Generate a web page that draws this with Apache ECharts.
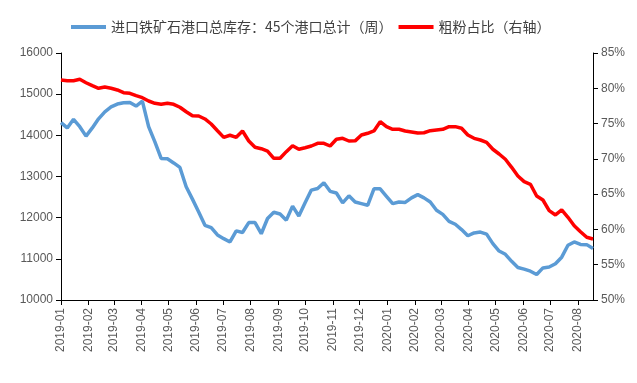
<!DOCTYPE html>
<html><head><meta charset="utf-8">
<script src="https://cdn.jsdelivr.net/npm/echarts@6/dist/echarts.min.js"></script>
<style>html,body{margin:0;padding:0;background:#fff}#c{width:637px;height:383px}</style>
</head><body><div id="c"></div>
<script>
// weekly data, first week 2019-01-04, last week 2020-08-21
const startDate = '2019-01-04';
const weekCount = 86;
const inventory = [
  14310, 14180, 14390, 14210, 13980, 14180, 14400, 14570, 14690, 14760,
  14790, 14800, 14710, 14830, 14210, 13840, 13440, 13430, 13330, 13220,
  12750, 12450, 12140, 11815, 11760, 11580, 11490, 11410, 11680, 11640,
  11880, 11880, 11610, 11980, 12130, 12090, 11940, 12280, 12040, 12360,
  12670, 12710, 12850, 12640, 12600, 12360, 12530, 12380, 12340, 12300,
  12700, 12700, 12520, 12340, 12380, 12370, 12480, 12560, 12480, 12380,
  12180, 12080, 11910, 11840, 11710, 11560, 11630, 11650, 11600, 11370,
  11190, 11110, 10940, 10790, 10750, 10700, 10620, 10780, 10800, 10880,
  11040, 11330, 11410, 11350, 11345, 11250
];
const finesShare = [
  81.17, 81.08, 81.08, 81.27, 80.79, 80.37, 80.00, 80.18, 80.00, 79.76,
  79.38, 79.29, 78.95, 78.67, 78.20, 77.87, 77.73, 77.87, 77.73, 77.31,
  76.68, 76.10, 76.07, 75.65, 74.94, 73.99, 73.05, 73.34, 73.05, 73.95,
  72.53, 71.64, 71.44, 71.11, 70.08, 70.08, 71.02, 71.87, 71.36, 71.58,
  71.82, 72.20, 72.20, 71.82, 72.77, 72.91, 72.53, 72.55, 73.38, 73.62,
  73.95, 75.27, 74.56, 74.19, 74.19, 73.95, 73.81, 73.67, 73.70, 73.99,
  74.09, 74.19, 74.56, 74.56, 74.33, 73.38, 72.91, 72.67, 72.34, 71.36,
  70.69, 69.94, 68.80, 67.57, 66.77, 66.40, 64.74, 64.17, 62.66, 62.05,
  62.76, 61.72, 60.53, 59.68, 58.89, 58.65
];
const leftTicks = {min: 10000, max: 16000, interval: 1000};
const rightTicks = {min: 50, max: 85, interval: 5};
const seriesNames = ['进口铁矿石港口总库存：45个港口总计（周）', '粗粉占比（右轴）'];

// daily category axis
const DAY = 86400000;
const t0 = Date.parse(startDate + 'T00:00:00Z');
const nDays = (weekCount - 1) * 7 + 1;
const days = [];
for (let i = 0; i < nDays; i++) {
  const d = new Date(t0 + i * DAY);
  days.push(d.toISOString().slice(0, 10));
}
const startDom = startDate.slice(8, 10);
const isMonthTick = (idx, val) => val.slice(8, 10) === startDom;
function spread(arr) {
  const out = new Array(nDays).fill(null);
  arr.forEach((v, i) => { out[i * 7] = v; });
  return out;
}

const chart = echarts.init(document.getElementById('c'), null, {renderer: 'canvas'});
const labelColor = '#595959';
chart.setOption({
  animation: false,
  textStyle: {fontFamily: 'Liberation Sans, Arial, sans-serif'},
  legend: {
    top: 15, left: 66,
    itemWidth: 35, itemHeight: 4, itemGap: 6,
    icon: 'rect',
    textStyle: {fontFamily: '"Noto Sans CJK SC", sans-serif', fontSize: 14, color: '#404040'},
    data: seriesNames
  },
  grid: {left: 61, right: 44, top: 53, bottom: 83},
  xAxis: {
    type: 'category', data: days, boundaryGap: false,
    axisLine: {lineStyle: {color: '#000', width: 1}},
    axisTick: {interval: isMonthTick, length: 5, lineStyle: {color: '#000'}},
    axisLabel: {
      interval: isMonthTick, rotate: 90, color: labelColor, fontSize: 12, margin: 8,
      formatter: v => v.slice(0, 7)
    },
    splitLine: {show: false}
  },
  yAxis: [
    {
      type: 'value', min: leftTicks.min, max: leftTicks.max, interval: leftTicks.interval,
      axisLine: {show: true, lineStyle: {color: '#000'}},
      axisTick: {show: true, length: 5, lineStyle: {color: '#000'}},
      axisLabel: {color: labelColor, fontSize: 12, margin: 8, formatter: v => String(v)},
      splitLine: {show: false}
    },
    {
      type: 'value', min: rightTicks.min, max: rightTicks.max, interval: rightTicks.interval,
      position: 'right',
      axisLine: {show: true, lineStyle: {color: '#000'}},
      axisTick: {show: true, length: 5, lineStyle: {color: '#000'}},
      axisLabel: {color: labelColor, fontSize: 12, margin: 8, formatter: '{value}%'},
      splitLine: {show: false}
    }
  ],
  series: [
    {
      name: seriesNames[0], type: 'line', yAxisIndex: 0, data: spread(inventory),
      connectNulls: true, showSymbol: false, symbol: 'none',
      lineStyle: {color: '#5B9BD5', width: 3.5}, itemStyle: {color: '#5B9BD5'}
    },
    {
      name: seriesNames[1], type: 'line', yAxisIndex: 1, data: spread(finesShare),
      connectNulls: true, showSymbol: false, symbol: 'none',
      lineStyle: {color: '#FF0000', width: 3.5}, itemStyle: {color: '#FF0000'}
    }
  ]
});
</script>
</body></html>
